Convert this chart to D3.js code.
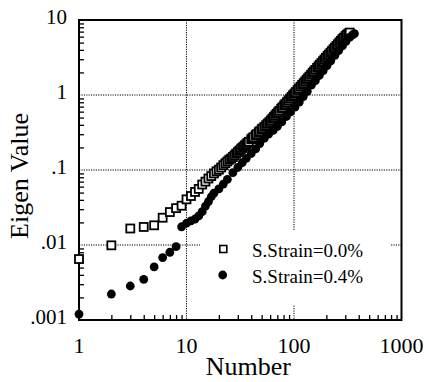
<!DOCTYPE html>
<html>
<head>
<meta charset="utf-8">
<script src="https://cdn.jsdelivr.net/npm/d3@7"></script>
<style>
  body { margin: 0; background: #fff; }
  svg text { font-family: "Liberation Serif", "Times New Roman", serif; fill: #000; }
</style>
</head>
<body>
<div id="chart"></div>
<script>
// Rank numbers and eigen values
const squareN = [1, 2, 3, 4, 5, 6, 7, 8, 9, 10, 11, 12, 13, 14, 15, 16, 17, 18, 19, 20,
  21, 22, 23, 24, 25, 26, 27, 28, 29, 30, 31, 32, 33, 34, 35, 36, 37, 38, 40, 41, 42, 44, 45,
  47, 48, 50, 51, 53, 55, 57, 59, 61, 63, 65, 67, 69, 71, 73, 76, 78, 81, 83, 86, 89, 92, 95,
  98, 101, 104, 108, 111, 115, 119, 123, 127, 131, 135, 139, 144, 149, 153, 158, 164, 169,
  174, 180, 186, 192, 198, 205, 211, 218, 225, 233, 240, 248, 256, 265, 273, 282, 291, 301,
  310, 320, 330];
const squareVal = [0.0065, 0.0099, 0.0166, 0.0174, 0.0183, 0.0231, 0.0275, 0.031, 0.0334, 0.0406,
  0.045, 0.051, 0.056, 0.064, 0.070, 0.077, 0.083, 0.090, 0.096, 0.101,
  0.108, 0.116, 0.123, 0.130, 0.137, 0.142, 0.149, 0.157, 0.165, 0.173, 0.181, 0.189, 0.197,
  0.205, 0.213, 0.221, 0.230, 0.238, 0.257, 0.265, 0.274, 0.292, 0.301,
  0.319, 0.329, 0.348, 0.357, 0.376, 0.396, 0.416, 0.436, 0.459, 0.484, 0.508, 0.535, 0.561,
  0.587, 0.615, 0.656, 0.685, 0.729, 0.758, 0.803, 0.849, 0.896, 0.944,
  0.994, 1.043, 1.094, 1.164, 1.217, 1.289, 1.363, 1.438, 1.515, 1.594, 1.675, 1.757, 1.860,
  1.967, 2.054, 2.164, 2.299, 2.415, 2.533, 2.676, 2.823, 2.97, 3.13, 3.31, 3.47, 3.66, 3.85,
  4.08, 4.28, 4.51, 4.75, 5.03, 5.28, 5.57, 5.8, 6.1, 6.35, 6.6, 6.8];

const circleN = [1, 2, 3, 4, 5, 6, 7, 8, 9, 10, 11, 12, 13, 14, 15, 16, 17, 18, 20,
  22, 24, 27, 30, 33, 36, 40, 44, 48, 53, 58, 64, 70, 77, 85, 93, 102, 112, 122, 133,
  145, 158, 172, 187, 203, 220, 240, 260, 282, 305, 330, 350, 365];
const circleVal = [0.0012, 0.00222, 0.00284, 0.00349, 0.0051, 0.0068, 0.008, 0.0095, 0.0175, 0.0195,
  0.021, 0.0222, 0.0244, 0.0278, 0.033, 0.038, 0.044, 0.049, 0.056,
  0.065, 0.075, 0.092, 0.108, 0.125, 0.143, 0.166, 0.191, 0.225, 0.265, 0.30, 0.337, 0.382,
  0.438, 0.517, 0.594, 0.689, 0.806, 0.954, 1.12, 1.35, 1.55, 1.82, 2.12, 2.47, 2.86, 3.37,
  3.9, 4.5, 5.2, 5.9, 6.35, 6.6];

const xTicks = [1, 10, 100, 1000];
const xTickLabels = ['1', '10', '100', '1000'];
const yTicks = [0.001, 0.01, 0.1, 1, 10];
const yTickLabels = ['.001', '.01', '.1', '1', '10'];
const xGrid = [10, 100];
const yGrid = [0.01, 0.1, 1];
const legendLabels = ['S.Strain=0.0%', 'S.Strain=0.4%'];

const width = 429, height = 382;
const plot = { left: 79, right: 401.5, top: 20, bottom: 320 };

const svg = d3.select('#chart')
    .append('svg')
    .attr('width', width)
    .attr('height', height);

const x = d3.scaleLog().domain([1, 1000]).range([plot.left, plot.right]);
const y = d3.scaleLog().domain([0.001, 10]).range([plot.bottom, plot.top]);

// minor ticks for log axes
const minorX = [];
for (let d = 1; d < 1000; d *= 10) for (let k = 2; k <= 9; k++) minorX.push(d * k);
const minorY = [];
for (let d = 0.001; d < 10; d *= 10) for (let k = 2; k <= 9; k++) minorY.push(d * k);

// Grid lines (dotted)
svg.append('g')
    .selectAll('line')
    .data(xGrid)
    .enter()
    .append('line')
    .attr('x1', d => x(d)).attr('x2', d => x(d))
    .attr('y1', plot.top).attr('y2', plot.bottom)
    .attr('stroke', '#000')
    .attr('stroke-width', 1)
    .attr('stroke-dasharray', '1.2,1.2');

svg.append('g')
    .selectAll('line')
    .data(yGrid)
    .enter()
    .append('line')
    .attr('x1', plot.left).attr('x2', plot.right)
    .attr('y1', d => y(d)).attr('y2', d => y(d))
    .attr('stroke', '#000')
    .attr('stroke-width', 1)
    .attr('stroke-dasharray', '1.2,1.2');

// Legend background hides the grid
svg.append('rect')
    .attr('x', 200).attr('y', 230)
    .attr('width', 190).attr('height', 75)
    .attr('fill', '#fff');

// Minor ticks inside the frame
svg.append('g')
    .attr('transform', `translate(0,${plot.bottom})`)
    .call(d3.axisTop(x).tickValues(minorX).tickSize(5).tickFormat(''))
    .call(g => g.select('.domain').remove())
    .selectAll('line').attr('stroke-width', 1.3);

svg.append('g')
    .attr('transform', `translate(${plot.left},0)`)
    .call(d3.axisRight(y).tickValues(minorY).tickSize(5).tickFormat(''))
    .call(g => g.select('.domain').remove())
    .selectAll('line').attr('stroke-width', 1.3);

// Frame
svg.append('rect')
    .attr('x', plot.left).attr('y', plot.top)
    .attr('width', plot.right - plot.left).attr('height', plot.bottom - plot.top)
    .attr('fill', 'none')
    .attr('stroke', '#000')
    .attr('stroke-width', 2);

// Tick labels
svg.append('g')
    .selectAll('text')
    .data(xTicks)
    .enter()
    .append('text')
    .attr('x', d => x(d))
    .attr('y', 353)
    .attr('text-anchor', 'middle')
    .style('font-size', '22px')
    .text((d, i) => xTickLabels[i]);

svg.append('g')
    .selectAll('text')
    .data(yTicks)
    .enter()
    .append('text')
    .attr('x', 67)
    .attr('y', d => y(d) + 4)
    .attr('text-anchor', 'end')
    .style('font-size', '21px')
    .text((d, i) => yTickLabels[i]);

// Axis titles
svg.append('text')
    .attr('x', (plot.left + plot.right) / 2 + 8)
    .attr('y', 375)
    .attr('text-anchor', 'middle')
    .style('font-size', '26px')
    .text('Number');

svg.append('text')
    .attr('transform', 'translate(28,176) rotate(-90)')
    .attr('text-anchor', 'middle')
    .style('font-size', '26px')
    .text('Eigen Value');

// Data: open squares
const sq = 8;
svg.append('g')
    .selectAll('rect')
    .data(squareN)
    .enter()
    .append('rect')
    .attr('x', d => x(d) - sq / 2)
    .attr('y', (d, i) => y(squareVal[i]) - sq / 2)
    .attr('width', sq).attr('height', sq)
    .attr('fill', '#fff')
    .attr('stroke', '#000')
    .attr('stroke-width', 1.8);

// Data: filled circles
svg.append('g')
    .selectAll('circle')
    .data(circleN)
    .enter()
    .append('circle')
    .attr('cx', d => x(d))
    .attr('cy', (d, i) => y(circleVal[i]))
    .attr('r', 4.4)
    .attr('fill', '#000');

// Legend
svg.append('rect')
    .attr('x', 223.3 - 3.5).attr('y', 249 - 3.5)
    .attr('width', 7).attr('height', 7)
    .attr('fill', '#fff')
    .attr('stroke', '#000')
    .attr('stroke-width', 1.6);
svg.append('circle')
    .attr('cx', 222.7).attr('cy', 275).attr('r', 4.4)
    .attr('fill', '#000');

svg.append('g')
    .selectAll('text')
    .data(legendLabels)
    .enter()
    .append('text')
    .attr('x', 252)
    .attr('y', (d, i) => 257 + i * 26)
    .style('font-size', '19px')
    .text(d => d);
</script>
</body>
</html>
